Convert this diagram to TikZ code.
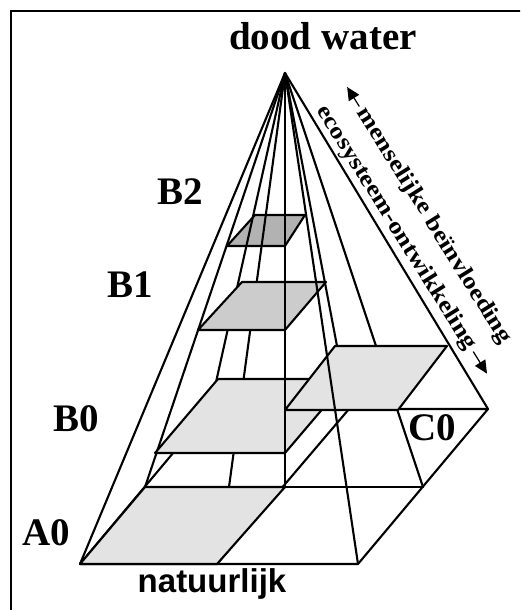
\documentclass[tikz,border=0pt]{standalone}
\usepackage{fontspec}
\setmainfont{Liberation Serif}
\setsansfont{Liberation Sans}
\usetikzlibrary{calc,arrows.meta}

\definecolor{cellA}{gray}{0.89}
\definecolor{cellB}{gray}{0.80}
\definecolor{cellC}{gray}{0.70}

\begin{document}
\begin{tikzpicture}[
    x=1pt, y=-1pt,
    edge/.style={line width=2.1pt, line cap=round},
    cell/.style={draw, line width=2.1pt, line join=round},
    lbl/.style={font=\fontsize{39}{39}\selectfont\bfseries, inner sep=0pt, anchor=base},
    slant/.style={rotate=-58, font=\fontsize{23}{23}\selectfont\bfseries\addfontfeature{FakeStretch=1.16}, inner sep=0pt},
    tip/.style={line width=1.2pt, -{Triangle[length=13pt, width=12pt]}}
]
\useasboundingbox (0,0) rectangle (520,610);
\clip (0,0) rectangle (520,610);

% Frame
\draw[line width=2pt] (11,11) rectangle (560,650);

% Apex and base points
\coordinate (top) at (285,73);
\coordinate (fl) at (80,564);
\coordinate (fm) at (217,564);
\coordinate (fr) at (358,564);
\coordinate (lm) at (145,487);
\coordinate (lq) at (229,487);
\coordinate (cm) at (285,487);
\coordinate (rm) at (423,487);
\coordinate (bl) at (210,409);
\coordinate (bm) at (349,409);
\coordinate (br) at (488,409);

% Top cell B2
\filldraw[cell, fill=cellC] (255,215) -- (305,215) -- (285,246) -- (227,246) -- cycle;

% Base grid
\draw[edge, line join=round] (fl) -- (fr) -- (br) -- (bl) -- cycle;
\draw[edge] (lm) -- (rm);
\draw[edge] (fm) -- (bm);
\filldraw[cell, fill=cellA] (fl) -- (fm) -- (cm) -- (lm) -- cycle;

% Lines from the apex
\foreach \p in {fl,lm,bl,lq,bm,rm,br}
    \draw[edge] (top) -- (\p);

% Cells B1, B0 and C0
\filldraw[cell, fill=cellB] (242,282) -- (326,282) -- (285,330) -- (198,330) -- cycle;
\filldraw[cell, fill=cellA] (218,379) -- (348,379) -- (285,453) -- (155,453) -- cycle;
\filldraw[cell, fill=cellA] (335,346) -- (447,346) -- (398,410) -- (285,410) -- cycle;

% Lines drawn over the cells
\foreach \p in {cm,fr}
    \draw[edge] (top) -- (\p);

% Labels
\node[lbl] (dead) at (323,50) {dood water};
\node[lbl] (b2) at (180,204) {B2};
\node[lbl] (b1) at (130,297) {B1};
\node[lbl] (b0) at (76,431) {B0};
\node[lbl] (a0) at (46,545) {A0};
\node[lbl] (c0) at (432,440) {C0};
\node[font=\fontsize{33}{33}\selectfont\sffamily\bfseries, inner sep=0pt, anchor=base] (nat) at (212,592) {natuurlijk};

% Side arrows
\node[slant] (infl) at (434,226) {menselijke beïnvloeding};
\node[slant] (eco) at (396,228) {ecosysteem-ontwikkeling};
\draw[tip] ($(infl.west)!-4pt!(infl.east)$) -- ($(infl.west)!-27pt!(infl.east)$);
\draw[tip] ($(eco.east)!-4pt!(eco.west)$) -- ($(eco.east)!-30pt!(eco.west)$);
\end{tikzpicture}
\end{document}
